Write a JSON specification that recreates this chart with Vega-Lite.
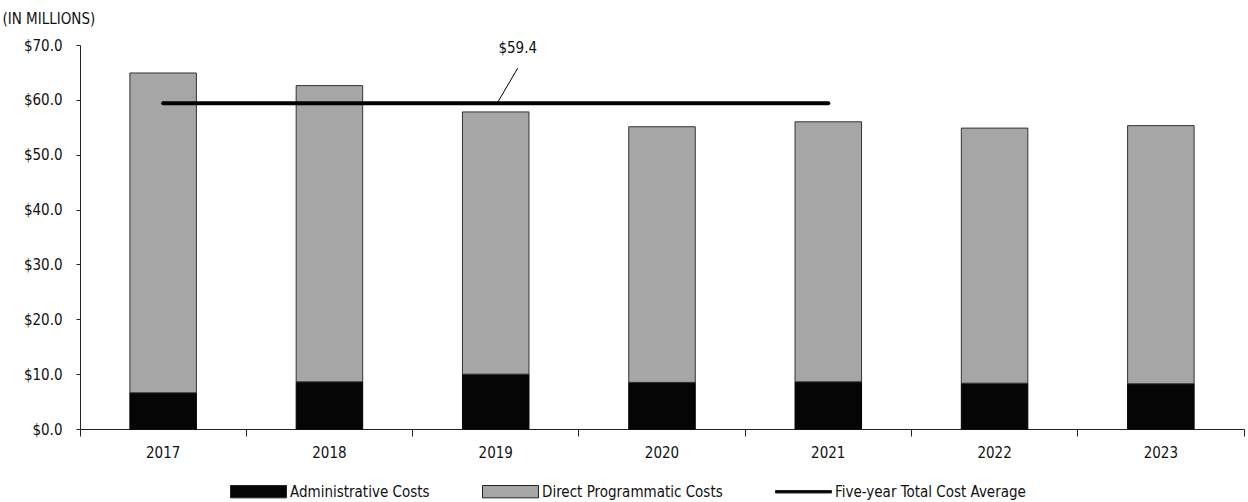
{
  "$schema": "https://vega.github.io/schema/vega-lite/v6.json",
  "width": 1164,
  "height": 384,
  "autosize": {"type": "none"},
  "padding": {"left": 80, "top": 45, "right": 4, "bottom": 73},
  "background": "white",
  "config": {
    "view": {"stroke": null},
    "font": "'DejaVu Sans Condensed', 'Noto Sans Condensed', Roboto, sans-serif",
    "axis": {"labelFont": "'DejaVu Sans Condensed', 'Noto Sans Condensed', Roboto, sans-serif", "titleFont": "'DejaVu Sans Condensed', 'Noto Sans Condensed', Roboto, sans-serif", "labelColor": "#111", "titleColor": "#111", "domainColor": "#222", "tickColor": "#222", "grid": false},
    "legend": {"labelFont": "'DejaVu Sans Condensed', 'Noto Sans Condensed', Roboto, sans-serif"}
  },
  "datasets": {
    "costs": [
      {"year": "2017", "type": "Administrative Costs", "amount": 6.6},
      {"year": "2017", "type": "Direct Programmatic Costs", "amount": 58.3},
      {"year": "2018", "type": "Administrative Costs", "amount": 8.6},
      {"year": "2018", "type": "Direct Programmatic Costs", "amount": 54.0},
      {"year": "2019", "type": "Administrative Costs", "amount": 10.0},
      {"year": "2019", "type": "Direct Programmatic Costs", "amount": 47.8},
      {"year": "2020", "type": "Administrative Costs", "amount": 8.5},
      {"year": "2020", "type": "Direct Programmatic Costs", "amount": 46.6},
      {"year": "2021", "type": "Administrative Costs", "amount": 8.6},
      {"year": "2021", "type": "Direct Programmatic Costs", "amount": 47.4},
      {"year": "2022", "type": "Administrative Costs", "amount": 8.35},
      {"year": "2022", "type": "Direct Programmatic Costs", "amount": 46.5},
      {"year": "2023", "type": "Administrative Costs", "amount": 8.25},
      {"year": "2023", "type": "Direct Programmatic Costs", "amount": 47.05}
    ],
    "avg": [
      {"start": "2017", "end": "2021", "anchor": "2019", "value": 59.4, "label": "$59.4"}
    ]
  },
  "layer": [
    {
      "data": {"name": "costs"},
      "mark": {"type": "bar", "strokeWidth": 1, "width": {"band": 0.4}},
      "encoding": {
        "x": {
          "field": "year", "type": "ordinal",
          "scale": {"paddingInner": 0, "paddingOuter": 0},
          "axis": {"title": null, "labelAngle": 0, "labelFontSize": 15, "tickSize": 7, "labelPadding": 9, "bandPosition": 1, "tickExtra": true, "domainWidth": 1, "tickWidth": 1}
        },
        "y": {
          "field": "amount", "type": "quantitative", "stack": "zero",
          "scale": {"domain": [0, 70], "nice": false},
          "axis": {
            "values": [0, 10, 20, 30, 40, 50, 60, 70],
            "format": "$.1f",
            "title": "(IN MILLIONS)",
            "titleAngle": 0,
            "titleAlign": "left",
            "titleBaseline": "middle",
            "titleX": -78,
            "titleY": -27,
            "titleFontSize": 15,
            "titleFontWeight": "normal",
            "labelFontSize": 15,
            "tickSize": 4,
            "labelPadding": 14
          }
        },
        "fill": {
          "field": "type", "type": "nominal",
          "scale": {"domain": ["Administrative Costs", "Direct Programmatic Costs", "Five-year Total Cost Average"], "range": ["#050505", "#a6a6a6", "#000000"]},
          "legend": {
            "title": null,
            "orient": "none",
            "legendX": 150,
            "legendY": 418,
            "direction": "horizontal",
            "labelFontSize": 15,
            "labelColor": "#111",
            "labelLimit": 400,
            "symbolSize": 3136,
            "labelOffset": 3,
            "columnPadding": 50,
            "symbolType": "M-1,-0.22H1V0.22H-1Z",
            "encode": {
              "symbols": {
                "update": {
                  "shape": {"signal": "datum.value === 'Five-year Total Cost Average' ? 'M-1,-0.045H1V0.045H-1Z' : 'M-1,-0.22H1V0.22H-1Z'"},
                  "stroke": {"value": "#222"},
                  "strokeWidth": {"value": 1}
                }
              }
            }
          }
        },
        "stroke": {
          "field": "type", "type": "nominal",
          "scale": {"domain": ["Administrative Costs", "Direct Programmatic Costs"], "range": ["#000000", "#333333"]},
          "legend": null
        },
        "order": {"field": "type", "sort": "ascending"}
      }
    },
    {
      "data": {"name": "avg"},
      "mark": {"type": "rule", "strokeWidth": 4, "strokeCap": "round", "color": "#000"},
      "encoding": {
        "x": {"field": "start", "type": "ordinal"},
        "x2": {"field": "end"},
        "y": {"field": "value", "type": "quantitative"}
      }
    },
    {
      "data": {"name": "avg"},
      "mark": {"type": "rule", "strokeWidth": 1, "color": "#000", "x2Offset": 22, "y2Offset": -35, "xOffset": 1.5},
      "encoding": {
        "x": {"field": "anchor", "type": "ordinal"},
        "x2": {"field": "anchor"},
        "y": {"field": "value", "type": "quantitative"},
        "y2": {"field": "value"}
      }
    },
    {
      "data": {"name": "avg"},
      "mark": {"type": "text", "dx": 22, "dy": -55, "fontSize": 15, "baseline": "middle", "align": "center", "color": "#111"},
      "encoding": {
        "x": {"field": "anchor", "type": "ordinal"},
        "y": {"field": "value", "type": "quantitative"},
        "text": {"field": "label"}
      }
    }
  ]
}
